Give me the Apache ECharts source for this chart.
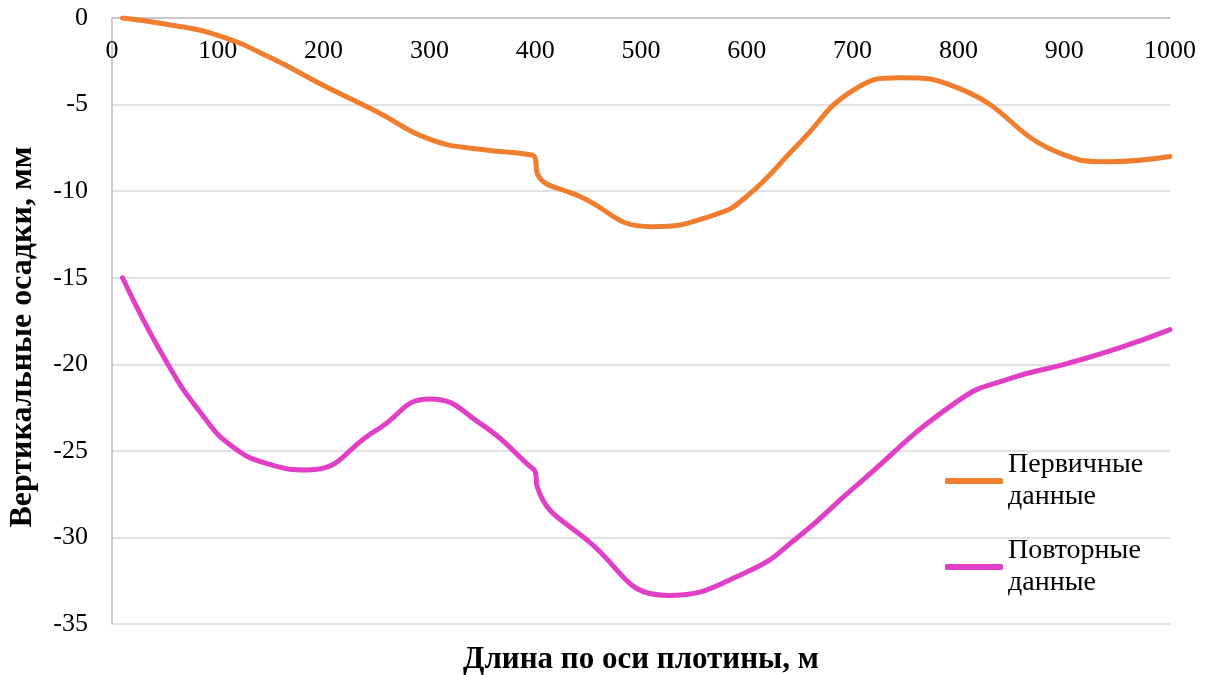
<!DOCTYPE html>
<html>
<head>
<meta charset="utf-8">
<script src="https://cdn.jsdelivr.net/npm/echarts@6/dist/echarts.min.js"></script>
<style>
  html, body { margin: 0; padding: 0; background: #fff; }
  #chart { width: 1207px; height: 675px; }
</style>
</head>
<body>
<div id="chart"></div>
<script>
// длина по оси плотины, м / вертикальные осадки, мм
var distPrimary = [10, 50, 100, 150, 200, 250, 300, 350, 395, 400, 402, 442, 510, 568, 600, 650, 700, 745, 800, 900, 940, 1000];
var valPrimary = [0, -0.35, -1.0, -2.3, -3.9, -5.4, -7.0, -7.6, -7.9, -8.1, -9.0, -10.3, -12.05, -11.4, -10.3, -7.2, -4.2, -3.45, -4.05, -7.9, -8.3, -8.0];

var distRepeat = [10, 50, 85, 115, 150, 185, 250, 300, 350, 395, 400, 402, 450, 525, 600, 650, 700, 800, 850, 900, 950, 1000];
var valRepeat = [-15, -19.7, -22.9, -24.8, -25.8, -26.1, -23.8, -22.0, -23.5, -25.9, -26.2, -27.1, -30.2, -33.35, -32.0, -29.9, -27.2, -22.1, -20.8, -20.0, -19.1, -18.0];

var xTicks = { min: 0, max: 1000, step: 100 };
var yTicks = { min: -35, max: 0, step: 5 };

var seriesNames = ['Первичные данные', 'Повторные данные'];
var colors = ['#ef7f2f', '#e03fc6'];

var fontFamily = '"Liberation Serif", "Times New Roman", serif';

function pairs(xs, ys) {
  var out = [];
  for (var i = 0; i < xs.length; i++) out.push([xs[i], ys[i]]);
  return out;
}

var chart = echarts.init(document.getElementById('chart'));

var option = {
  animation: false,
  backgroundColor: '#fff',
  grid: { left: 112, right: 37, top: 18, bottom: 51, containLabel: false, outerBoundsMode: 'none' },
  xAxis: {
    type: 'value',
    position: 'top',
    min: xTicks.min,
    max: xTicks.max,
    interval: xTicks.step,
    axisLine: { lineStyle: { color: '#bfbfbf', width: 1.5 } },
    axisTick: { show: false },
    splitLine: { show: false },
    axisLabel: {
      inside: true,
      margin: 20,
      color: '#000',
      fontSize: 26,
      fontFamily: fontFamily,
      formatter: function (v) { return String(v); }
    }
  },
  yAxis: {
    type: 'value',
    min: yTicks.min,
    max: yTicks.max,
    interval: yTicks.step,
    axisLine: { show: true, lineStyle: { color: '#bfbfbf', width: 1.5 } },
    axisTick: { show: false },
    splitLine: { lineStyle: { color: '#d9d9d9', width: 1.5 } },
    axisLabel: { margin: 24, color: '#000', fontSize: 26, fontFamily: fontFamily }
  },
  legend: {
    orient: 'vertical',
    left: 945,
    top: 433,
    padding: 0,
    itemWidth: 58,
    itemHeight: 6,
    itemGap: -10,
    icon: 'roundRect',
    formatter: function (name) { return name.replace(' ', '\n'); },
    textStyle: { color: '#000', fontSize: 28, lineHeight: 32, fontFamily: fontFamily, padding: [32, 0, 0, 0] },
    data: seriesNames
  },
  graphic: [
    {
      type: 'text',
      x: 641,
      y: 660,
      style: {
        text: 'Длина по оси плотины, м', fill: '#000',
        font: 'bold 31px ' + fontFamily, align: 'center', verticalAlign: 'middle'
      }
    },
    {
      type: 'text',
      x: 23,
      y: 337,
      rotation: Math.PI / 2,
      style: {
        text: 'Вертикальные осадки, мм', fill: '#000',
        font: 'bold 32px ' + fontFamily, align: 'center', verticalAlign: 'middle'
      }
    }
  ],
  series: [
    {
      name: seriesNames[0],
      type: 'line',
      smooth: 0.5,
      showSymbol: false,
      data: pairs(distPrimary, valPrimary),
      itemStyle: { color: colors[0] },
      lineStyle: { color: colors[0], width: 5, cap: 'round', join: 'round' }
    },
    {
      name: seriesNames[1],
      type: 'line',
      smooth: 0.5,
      showSymbol: false,
      data: pairs(distRepeat, valRepeat),
      itemStyle: { color: colors[1] },
      lineStyle: { color: colors[1], width: 5, cap: 'round', join: 'round' }
    }
  ]
};

chart.setOption(option);
</script>
</body>
</html>
